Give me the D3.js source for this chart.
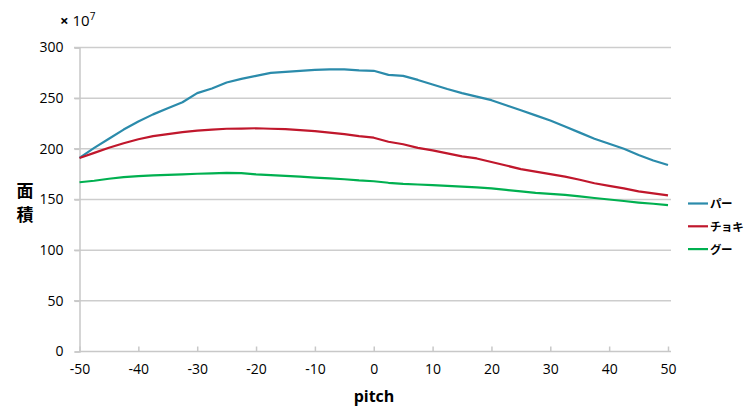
<!DOCTYPE html>
<html>
<head>
<meta charset="utf-8">
<script src="https://cdn.jsdelivr.net/npm/d3@7"></script>
<style>
  html, body { margin: 0; padding: 0; background: #fff; }
  svg { display: block; }
  text { font-family: "Open Sans", "Noto Sans", sans-serif; fill: #000; }
  .jp { font-family: "Noto Sans CJK JP", sans-serif; }
</style>
</head>
<body>
<svg id="chart" width="747" height="408"></svg>
<script>
// pitch angles (degrees)
const pitch = [-50, -47.5, -45, -42.5, -40, -37.5, -35, -32.5, -30, -27.5, -25, -22.5, -20, -17.5, -15, -12.5, -10, -7.5, -5, -2.5,
  0, 2.5, 5, 7.5, 10, 12.5, 15, 17.5, 20, 22.5, 25, 27.5, 30, 32.5, 35, 37.5, 40, 42.5, 45, 47.5, 50];

// area values (x10^7)
const paa = [191, 201, 210, 219, 227, 234, 240, 246, 255, 259.5, 265.5, 269, 272, 275, 276, 277, 278, 278.5, 278.5, 277.5,
  277, 273, 272, 268, 263.5, 259, 255, 251.5, 248, 243, 238, 233, 228, 222, 216, 210, 205, 200, 194, 188.5, 184];
const choki = [191, 196, 201, 205.5, 209.5, 212.5, 214.5, 216.5, 218, 219, 219.8, 220, 220.3, 219.8, 219.5, 218.5, 217.5, 216, 214.5, 212.5,
  211, 207, 204.5, 201, 198.5, 195.5, 192.5, 190.5, 187, 183.5, 180, 177.5, 175, 172.5, 169.5, 166, 163.5, 161, 158, 156, 154];
const guu = [167, 168.5, 170.5, 172, 173, 173.8, 174.3, 174.8, 175.4, 175.8, 176.2, 176, 174.8, 174, 173.3, 172.5, 171.6, 170.8, 170, 168.8,
  168, 166.5, 165.4, 164.8, 164.2, 163.5, 162.8, 162, 161, 159.5, 158, 156.5, 155.6, 154.5, 153, 151.5, 150, 148.5, 147, 145.8, 144.4];

const seriesNames = ["パー", "チョキ", "グー"];
const seriesColors = ["#2b8bab", "#c0172c", "#00b050"];
const xTicks = [-50, -40, -30, -20, -10, 0, 10, 20, 30, 40, 50];
const yTicks = [0, 50, 100, 150, 200, 250, 300];

const series = [paa, choki, guu].map((vals, i) => ({
  name: seriesNames[i],
  color: seriesColors[i],
  points: pitch.map((p, j) => ({ x: p, y: vals[j] }))
}));

const svg = d3.select("#chart");
const x = d3.scaleLinear().domain([-50, 50]).range([79.5, 668]);
const y = d3.scaleLinear().domain([0, 300]).range([351.5, 47.5]);
const plain = d => String(d); // ASCII hyphen for negatives

// horizontal gridlines
svg.append("g")
  .selectAll("line")
  .data(yTicks.filter(d => d > 0))
  .join("line")
  .attr("x1", 74).attr("x2", 671)
  .attr("y1", d => y(d)).attr("y2", d => y(d))
  .attr("stroke", "#cdcdcd").attr("stroke-width", 1.5);

// y axis
const yAxis = svg.append("g")
  .attr("transform", `translate(${x(-50)},0)`)
  .call(d3.axisLeft(y).tickValues(yTicks).tickFormat(plain).tickSize(5).tickPadding(11));
yAxis.select(".domain").attr("stroke", "#c8c8c8").attr("stroke-width", 1.5);
yAxis.selectAll(".tick line").attr("stroke", "#c8c8c8").attr("stroke-width", 1.5);
yAxis.selectAll(".tick text").attr("font-size", 14).attr("fill", "#000")
  .style("font-family", "'Open Sans', sans-serif");

// x axis with inward ticks
const xAxis = svg.append("g")
  .attr("transform", `translate(0,${y(0)})`)
  .call(d3.axisBottom(x).tickValues(xTicks).tickFormat(plain).tickSize(0).tickPadding(13).tickSizeOuter(0));
xAxis.select(".domain").remove();
xAxis.append("line")
  .attr("x1", x(-50)).attr("x2", 671)
  .attr("stroke", "#c8c8c8").attr("stroke-width", 1.5);
xAxis.selectAll(".tick").append("line")
  .attr("y1", 0).attr("y2", -5)
  .attr("stroke", "#c8c8c8").attr("stroke-width", 1.5);
xAxis.selectAll(".tick text").attr("font-size", 14).attr("fill", "#000")
  .style("font-family", "'Open Sans', sans-serif");

// series lines
const line = d3.line().x(d => x(d.x)).y(d => y(d.y)).curve(d3.curveLinear);
svg.append("g")
  .selectAll("path")
  .data(series)
  .join("path")
  .attr("d", d => line(d.points))
  .attr("fill", "none")
  .attr("stroke", d => d.color)
  .attr("stroke-width", 2.2)
  .attr("stroke-linejoin", "round");

// unit label
const unit = svg.append("text").attr("x", 60).attr("y", 26).attr("font-size", 15);
unit.append("tspan").attr("font-weight", "bold").text("×");
unit.append("tspan").text(" 10");
unit.append("tspan").attr("font-size", 10).attr("dy", -6).text("7");

// axis titles
svg.append("text").attr("class", "jp").attr("x", 25).attr("y", 197)
  .attr("text-anchor", "middle").attr("font-size", 17).attr("font-weight", "bold").text("面");
svg.append("text").attr("class", "jp").attr("x", 25).attr("y", 221)
  .attr("text-anchor", "middle").attr("font-size", 17).attr("font-weight", "bold").text("積");
svg.append("text").attr("x", 374).attr("y", 402)
  .attr("text-anchor", "middle").attr("font-size", 16).attr("font-weight", "bold").text("pitch");

// legend
const legend = svg.append("g")
  .selectAll("g")
  .data(series)
  .join("g")
  .attr("transform", (d, i) => `translate(688,${203.5 + i * 22.8})`);
legend.append("line")
  .attr("x1", 0).attr("x2", 20)
  .attr("stroke", d => d.color).attr("stroke-width", 2.2);
legend.append("text")
  .attr("class", "jp")
  .attr("x", 22).attr("y", 4.5)
  .attr("font-size", 11.5).attr("font-weight", "bold")
  .attr("letter-spacing", -0.4)
  .text(d => d.name);
</script>
</body>
</html>
